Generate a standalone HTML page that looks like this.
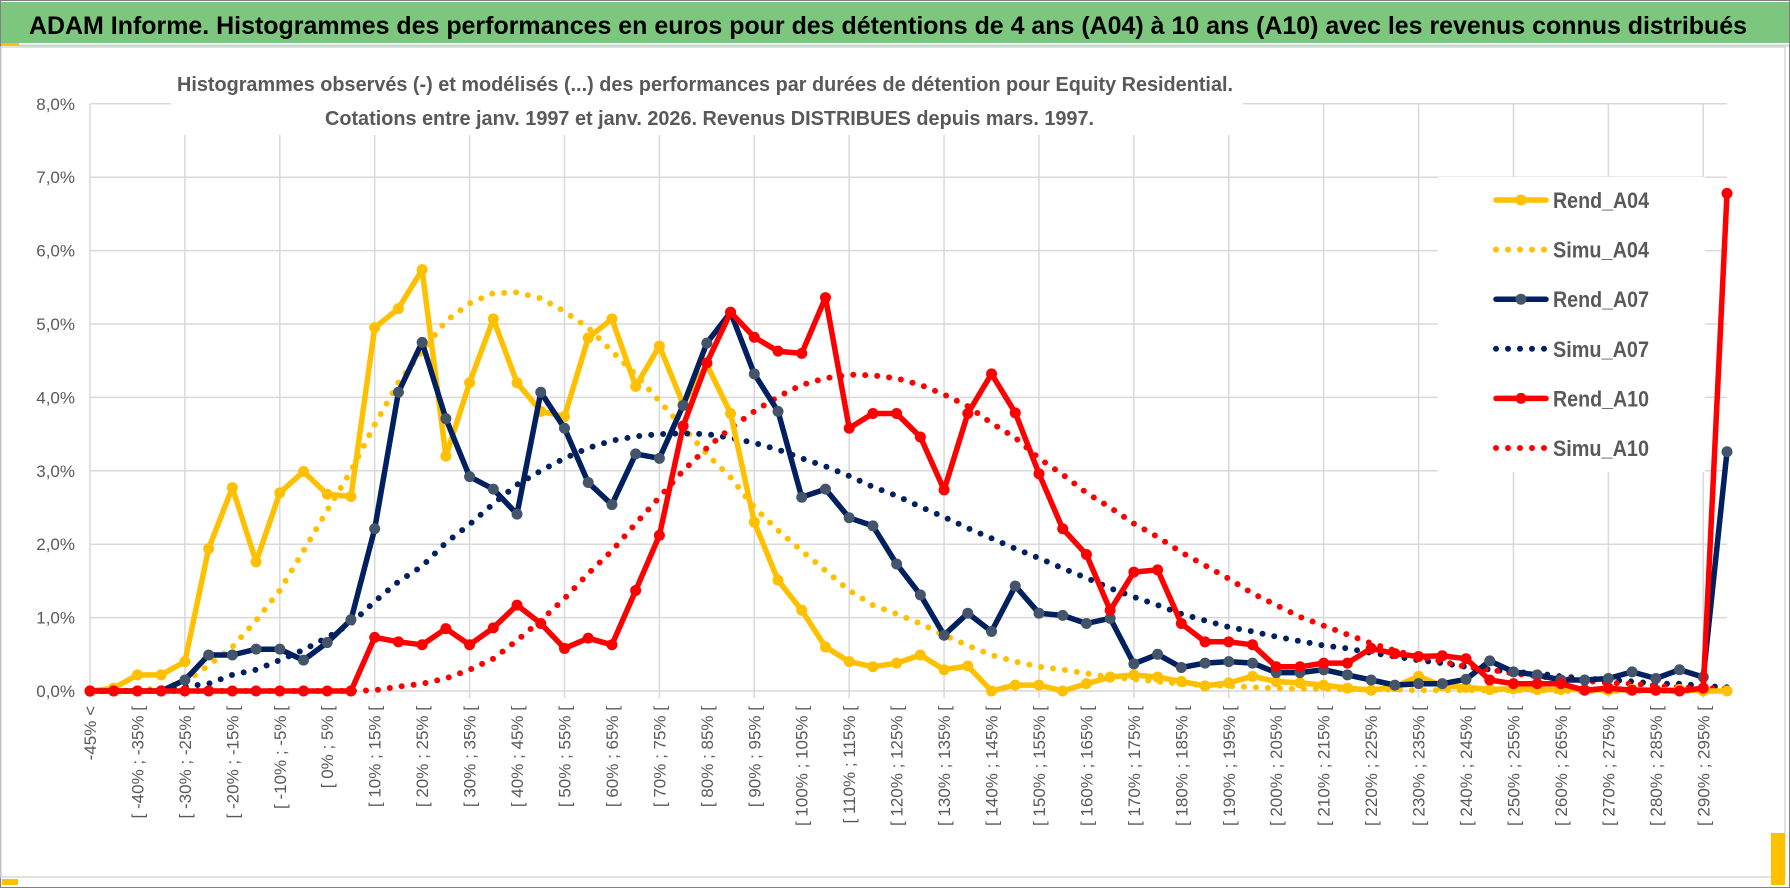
<!DOCTYPE html>
<html><head><meta charset="utf-8"><style>
html,body{margin:0;padding:0;background:#fff;}
svg{display:block;font-family:"Liberation Sans",sans-serif;}
</style></head><body>
<svg id="chart" width="1790" height="888" viewBox="0 0 1790 888" xmlns="http://www.w3.org/2000/svg">
<rect x="0.5" y="0.5" width="1789" height="887" fill="#fff" stroke="#7f7f7f"/>
<rect x="1" y="2" width="1788" height="41" fill="#7dc67e"/>
<rect x="1" y="43" width="18" height="3" fill="#ffc000"/>
<line x1="19" y1="45.5" x2="1789" y2="45.5" stroke="#d0d0d0" stroke-width="2"/>
<text x="29" y="34" font-size="25" font-weight="bold" fill="#000" textLength="1718" lengthAdjust="spacingAndGlyphs">ADAM Informe. Histogrammes des performances en euros pour des détentions de 4 ans (A04) à 10 ans (A10) avec les revenus connus distribués</text>
<rect x="1" y="47" width="1784" height="830" fill="none" stroke="#d9d9d9" stroke-width="1.5"/>
<rect x="1771" y="833" width="14" height="52" fill="#ffc000"/>
<rect x="2" y="879" width="16" height="6" fill="#ffc000"/>
<g id="grid"></g>
<g id="series"></g>
<rect x="171" y="58" width="1072" height="77" fill="#fff"/>
<text x="177" y="91" font-size="20" font-weight="bold" fill="#595959" textLength="1056" lengthAdjust="spacingAndGlyphs">Histogrammes observés (-) et modélisés (...) des performances par durées de détention pour Equity Residential.</text>
<text x="325" y="125" font-size="20" font-weight="bold" fill="#595959" textLength="769" lengthAdjust="spacingAndGlyphs">Cotations entre janv. 1997 et janv. 2026. Revenus DISTRIBUES depuis mars. 1997.</text>
<g id="axes"></g>
<g id="legend"></g>
</svg>
<script>
const categories = (function(){const a=["-45% <"];for(let k=1;k<=68;k++){a.push("[ "+(-50+5*k)+"% ; "+(-45+5*k)+"% [");}a.push("[ 295% ; 300% [");return a;})();
const yTicks = [0,1,2,3,4,5,6,7,8];
const yTickLabels = ["0,0%","1,0%","2,0%","3,0%","4,0%","5,0%","6,0%","7,0%","8,0%"];
const rendA04 = [0,0.04,0.22,0.22,0.40,1.94,2.77,1.76,2.70,2.99,2.68,2.65,4.95,5.21,5.74,3.20,4.20,5.07,4.20,3.81,3.74,4.81,5.07,4.15,4.70,3.91,4.45,3.78,2.30,1.51,1.10,0.60,0.40,0.33,0.38,0.49,0.29,0.34,0.0,0.08,0.08,0.0,0.10,0.19,0.22,0.19,0.13,0.07,0.11,0.20,0.13,0.11,0.08,0.04,0.01,0.06,0.20,0.07,0.05,0.02,0.03,0.02,0.02,0.02,0.01,0.02,0.01,0.02,0.0,0.0];
const simuA04 = [0,0,0.01,0.04,0.12,0.35,0.60,0.96,1.37,1.91,2.46,3.00,3.63,4.20,4.63,5.04,5.28,5.42,5.43,5.35,5.17,4.95,4.63,4.31,3.95,3.59,3.23,2.91,2.50,2.19,1.91,1.64,1.37,1.17,1.05,0.92,0.76,0.62,0.49,0.40,0.33,0.29,0.24,0.19,0.16,0.13,0.10,0.08,0.07,0.05,0.04,0.03,0.03,0.02,0.02,0.02,0.01,0.01,0.01,0.01,0.01,0.01,0,0,0,0,0,0,0,0];
const rendA07 = [0,0,0,0,0.15,0.49,0.49,0.57,0.57,0.42,0.66,0.97,2.21,4.07,4.75,3.71,2.92,2.75,2.41,4.07,3.58,2.84,2.54,3.23,3.17,3.89,4.74,5.16,4.32,3.81,2.64,2.75,2.36,2.25,1.73,1.31,0.76,1.06,0.81,1.43,1.06,1.03,0.92,0.99,0.37,0.50,0.32,0.38,0.40,0.38,0.25,0.25,0.29,0.22,0.15,0.08,0.10,0.10,0.16,0.41,0.26,0.22,0.15,0.15,0.17,0.26,0.17,0.29,0.19,3.26];
const simuA07 = [0,0,0,0.01,0.06,0.10,0.22,0.29,0.42,0.56,0.73,0.92,1.22,1.49,1.70,2.02,2.27,2.55,2.81,3.00,3.17,3.31,3.41,3.47,3.50,3.51,3.50,3.45,3.38,3.29,3.17,3.06,2.93,2.78,2.66,2.51,2.37,2.22,2.08,1.94,1.81,1.67,1.54,1.40,1.28,1.17,1.05,0.96,0.87,0.81,0.74,0.68,0.62,0.58,0.52,0.47,0.42,0.38,0.33,0.29,0.26,0.24,0.20,0.17,0.15,0.13,0.10,0.10,0.07,0.05];
const rendA10 = [0,0,0,0,0,0,0,0,0,0,0,0,0.73,0.67,0.63,0.85,0.63,0.86,1.17,0.92,0.58,0.72,0.63,1.37,2.12,3.61,4.47,5.16,4.82,4.63,4.60,5.36,3.58,3.78,3.78,3.46,2.74,3.78,4.32,3.79,2.96,2.21,1.86,1.10,1.62,1.65,0.92,0.67,0.67,0.63,0.33,0.33,0.38,0.38,0.58,0.51,0.47,0.48,0.44,0.15,0.10,0.10,0.10,0.01,0.04,0.01,0.01,0.0,0.04,6.78];
const simuA10 = [0,0,0,0,0,0,0,0,0,0,0,0,0.01,0.06,0.10,0.17,0.29,0.44,0.69,0.96,1.26,1.60,1.91,2.28,2.64,3.00,3.31,3.58,3.81,4.01,4.17,4.26,4.31,4.30,4.26,4.17,4.04,3.88,3.65,3.45,3.17,2.95,2.70,2.50,2.28,2.10,1.89,1.71,1.53,1.33,1.17,1.01,0.89,0.77,0.65,0.55,0.47,0.40,0.33,0.29,0.24,0.20,0.17,0.14,0.11,0.10,0.07,0.05,0.04,0.03];
const seriesNames = ["Rend_A04","Simu_A04","Rend_A07","Simu_A07","Rend_A10","Simu_A10"];

const NS="http://www.w3.org/2000/svg";
const X0=90, X1=1727, Y0=691, PPU=73.4;
function xPos(i){return X0+i*(X1-X0)/(categories.length-1);}
function yPos(v){return Y0-v*PPU;}
function mk(tag,attrs,parent){const e=document.createElementNS(NS,tag);for(const k in attrs)e.setAttribute(k,attrs[k]);parent.appendChild(e);return e;}

const grid=document.getElementById('grid');
yTicks.forEach(function(t){
  const l=mk('line',{x1:X0,x2:X1,y1:yPos(t),y2:yPos(t),stroke:'#d9d9d9','stroke-width':1.5},grid);
  
  
});
for(let i=0;i<categories.length;i+=4){
  const l=mk('line',{x1:xPos(i),x2:xPos(i),y1:yPos(8),y2:Y0+7,stroke:'#d9d9d9','stroke-width':1.5},grid);
  
  
}
const axes=document.getElementById('axes');
yTicks.forEach(function(t,k){
  const tx=mk('text',{x:75,y:yPos(t)+6,'text-anchor':'end','font-size':17,fill:'#595959'},axes);
  tx.textContent=yTickLabels[k];
  
  
});
for(let i=0;i<categories.length;i+=2){
  const x=xPos(i)+6, y=706;
  const tx=mk('text',{x:x,y:y,'text-anchor':'end','font-size':17,fill:'#595959',transform:'rotate(-90 '+x+' '+y+')'},axes);
  tx.textContent=categories[i];
  
  
}

const sg=document.getElementById('series');
function pathD(vals){return vals.map(function(v,i){return (i?'L':'M')+xPos(i).toFixed(1)+' '+yPos(v).toFixed(1);}).join(' ');}
function dotted(vals,color,name){
  const p=mk('path',{d:pathD(vals),fill:'none',stroke:color,'stroke-width':6,'stroke-linecap':'round','stroke-dasharray':'0 12'},sg);
  
  
}
function solid(vals,color,mcolor,name){
  const p=mk('path',{d:pathD(vals),fill:'none',stroke:color,'stroke-width':5.5,'stroke-linejoin':'round'},sg);
  
  
  vals.forEach(function(v,i){
    const c=mk('circle',{cx:xPos(i),cy:yPos(v),r:5.5,fill:mcolor},sg);
    
    
  });
}
dotted(simuA04,'#ffc000','simu-a04-line');
dotted(simuA07,'#002060','simu-a07-line');
dotted(simuA10,'#ff0000','simu-a10-line');
solid(rendA04,'#ffc000','#ffc000','rend-a04-line');
solid(rendA07,'#002060','#44546a','rend-a07-line');
solid(rendA10,'#ff0000','#ff0000','rend-a10-line');

const lg=document.getElementById('legend');
const bg=mk('rect',{x:1438,y:177,width:267,height:295,fill:'#fff'},lg);


const lcol=['#ffc000','#ffc000','#002060','#002060','#ff0000','#ff0000'];
const lmk=['#ffc000',null,'#44546a',null,'#ff0000',null];
seriesNames.forEach(function(n,k){
  const y=200+k*49.6;
  if(k%2===0){
    const l=mk('line',{x1:1496,x2:1546,y1:y,y2:y,stroke:lcol[k],'stroke-width':5.5,'stroke-linecap':'round'},lg);
    
    
    const c=mk('circle',{cx:1521,cy:y,r:5.5,fill:lmk[k]},lg);
    
    
  } else {
    const l=mk('line',{x1:1496,x2:1546,y1:y,y2:y,stroke:lcol[k],'stroke-width':6,'stroke-linecap':'round','stroke-dasharray':'0 12'},lg);
    
    
  }
  const t=mk('text',{x:1553,y:y+8,'font-size':22,'font-weight':'bold',fill:'#595959',textLength:96,lengthAdjust:'spacingAndGlyphs'},lg);
  t.textContent=n;
  
  
});
</script>
</body></html>
